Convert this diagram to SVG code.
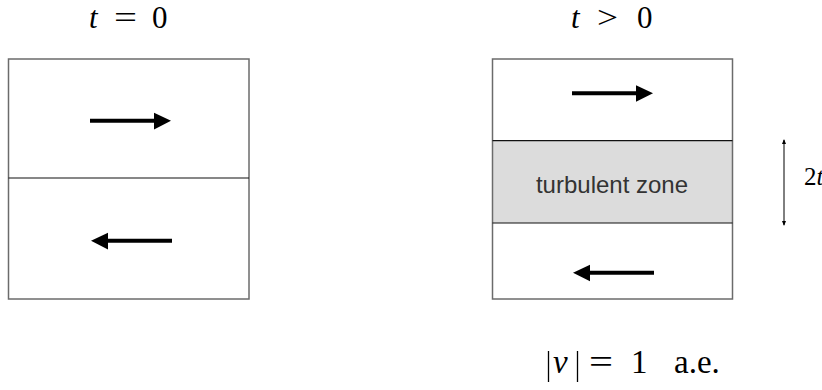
<svg xmlns="http://www.w3.org/2000/svg" width="822" height="390" viewBox="0 0 822 390">
<style>
.box{fill:none;stroke:#6b6b6b;stroke-width:1.5}
.div{stroke:#111;stroke-width:1.2}
.shaft{stroke:#000;stroke-width:4}
.math{font-family:"Liberation Serif","DejaVu Serif",serif;font-size:33px;fill:#000}
.ttl{font-size:31px}
.sm{font-size:25px}
.it{font-style:italic}
.lbl{font-family:"Liberation Sans",Arial,sans-serif;font-size:24px;fill:#333}
</style>
<defs>
<marker id="sm" viewBox="0 0 10 10" refX="8" refY="5" markerWidth="5" markerHeight="5" orient="auto-start-reverse">
<path d="M0,1 L10,5 L0,9 z" fill="#000"/>
</marker>
</defs>
<rect width="822" height="390" fill="#fff"/>
<g id="title-left">
<text class="math ttl it" x="89" y="28">t</text>
<text class="math ttl" x="114" y="28" textLength="23" lengthAdjust="spacingAndGlyphs">=</text>
<text class="math ttl" x="152" y="28">0</text>
</g>
<g id="title-right">
<text class="math ttl it" x="571" y="28">t</text>
<text class="math ttl" x="597" y="28" textLength="21" lengthAdjust="spacingAndGlyphs">&gt;</text>
<text class="math ttl" x="637" y="28">0</text>
</g>
<g id="left-box">
<rect class="box" x="8.5" y="59" width="240.5" height="240"/>
<line class="div" x1="8.5" y1="178" x2="249" y2="178"/>
<line class="shaft" x1="90" y1="120.7" x2="156" y2="120.7"/>
<polygon points="154,112.7 171,120.7 154,129.5"/>
<line class="shaft" x1="106" y1="240.7" x2="172" y2="240.7"/>
<polygon points="108,232.7 91,240.7 108,249.5"/>
</g>
<g id="right-box">
<rect x="492.5" y="140.7" width="240" height="82.3" fill="#dcdcdc"/>
<rect class="box" x="492.5" y="59" width="240" height="240"/>
<line class="div" x1="492.5" y1="140.7" x2="732.5" y2="140.7"/>
<line class="div" x1="492.5" y1="223" x2="732.5" y2="223"/>
<text class="lbl" x="612" y="193" text-anchor="middle">turbulent zone</text>
<line class="shaft" x1="572" y1="93.3" x2="638" y2="93.3"/>
<polygon points="636,85.3 653,93.3 636,101.8"/>
<line class="shaft" x1="588" y1="272.7" x2="654" y2="272.7"/>
<polygon points="590,264.7 573,272.7 590,281.2"/>
</g>
<g id="connectors">
<line x1="784" y1="140" x2="784" y2="225" stroke="#000" stroke-width="1" marker-start="url(#sm)" marker-end="url(#sm)"/>
</g>
<g id="width-label">
<text class="math sm" x="804" y="185">2<tspan class="it">t</tspan></text>
</g>
<g id="speed-label">
<line x1="548.5" y1="351" x2="548.5" y2="382" stroke="#000" stroke-width="1.3"/>
<text class="math it" x="553" y="373">v</text>
<line x1="577.5" y1="351" x2="577.5" y2="382" stroke="#000" stroke-width="1.3"/>
<text class="math" x="589" y="373" textLength="24" lengthAdjust="spacingAndGlyphs">=</text>
<text class="math" x="631" y="373">1</text>
<text class="math" x="674" y="373">a.e.</text>
</g>
</svg>
